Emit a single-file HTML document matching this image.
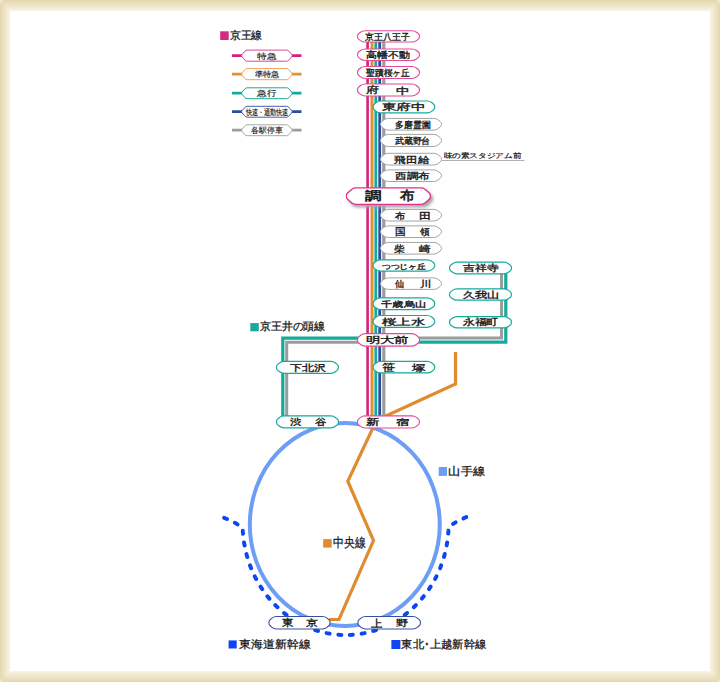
<!DOCTYPE html><html><head><meta charset="utf-8"><style>html,body{margin:0;padding:0;background:#fff;}svg{display:block}text{font-family:"Liberation Sans", sans-serif;}</style></head><body>
<svg width="720" height="682" viewBox="0 0 720 682">
<defs><filter id="blur1" x="-20%" y="-50%" width="140%" height="200%"><feGaussianBlur stdDeviation="1.4"/></filter></defs>
<rect x="0" y="0" width="720" height="682" fill="#f1e9d2"/>
<rect x="0.00" y="0.00" width="720.00" height="682.00" rx="5.0" fill="rgb(231, 215, 174)"/>
<rect x="0.91" y="1.00" width="718.18" height="680.00" rx="4.5" fill="rgb(232, 218, 179)"/>
<rect x="1.82" y="2.00" width="716.36" height="678.00" rx="4.0" fill="rgb(234, 221, 185)"/>
<rect x="2.73" y="3.00" width="714.55" height="676.00" rx="3.5" fill="rgb(236, 224, 190)"/>
<rect x="3.64" y="4.00" width="712.73" height="674.00" rx="3.0" fill="rgb(237, 227, 196)"/>
<rect x="4.55" y="5.00" width="710.91" height="672.00" rx="2.5" fill="rgb(238, 230, 201)"/>
<rect x="5.45" y="6.00" width="709.09" height="670.00" rx="2.0" fill="rgb(240, 232, 206)"/>
<rect x="6.36" y="7.00" width="707.27" height="668.00" rx="1.5" fill="rgb(242, 235, 212)"/>
<rect x="7.27" y="8.00" width="705.45" height="666.00" rx="1.0" fill="rgb(243, 238, 217)"/>
<rect x="8.18" y="9.00" width="703.64" height="664.00" rx="0.5" fill="rgb(244, 241, 223)"/>
<rect x="9.09" y="10.00" width="701.82" height="662.00" rx="0.0" fill="rgb(246, 244, 228)"/>
<rect x="10" y="11" width="700" height="660" fill="#fff"/>
<ellipse cx="344.8" cy="524.5" rx="95" ry="101.5" fill="none" stroke="#6d9ef5" stroke-width="4"/>
<polyline points="455.5,352 455.5,384 376.5,420.3 347.8,481.2 373.5,540.6 339,619.5 329,619.5" fill="none" stroke="#e08b2f" stroke-width="3.2" stroke-linejoin="miter"/>
<polyline points="505.8,266 505.8,342.2 420,342.2 357,338.2 282.8,338.2 282.8,422" fill="none" stroke="#15ab9c" stroke-width="3.2" stroke-linejoin="miter"/>
<polyline points="501.5,266 501.5,338 420,338 357,342.2 286.7,342.2 286.7,422" fill="none" stroke="#9c9c9c" stroke-width="3" stroke-linejoin="miter"/>
<line x1="367.6" y1="36" x2="367.6" y2="422" stroke="#d42082" stroke-width="2.6"/>
<line x1="372.0" y1="36" x2="372.0" y2="422" stroke="#e5902e" stroke-width="3"/>
<line x1="375.8" y1="36" x2="375.8" y2="422" stroke="#15ab9c" stroke-width="2.8"/>
<line x1="379.7" y1="36" x2="379.7" y2="422" stroke="#2c4c9e" stroke-width="2.8"/>
<line x1="383.8" y1="36" x2="383.8" y2="422" stroke="#9c9c9c" stroke-width="3.2"/>
<rect x="220.2" y="31.3" width="8.5" height="8.7" fill="#d42a82"/>
<text x="229.67" y="39.43" font-size="10.52" textLength="32.76" lengthAdjust="spacingAndGlyphs" fill="#1a1a1a" stroke="#1a1a1a" stroke-width="0.30">京王線</text>
<line x1="232" y1="55.6" x2="301.5" y2="55.6" stroke="#d42082" stroke-width="2.8"/>
<path d="M247.10,50.10 L286.70,50.10 Q287.90,50.10 288.68,51.01 L291.65,54.44 Q292.70,55.65 291.65,56.86 L288.68,60.29 Q287.90,61.20 286.70,61.20 L247.10,61.20 Q245.90,61.20 245.12,60.29 L242.15,56.86 Q241.10,55.65 242.15,54.44 L245.12,51.01 Q245.90,50.10 247.10,50.10 Z" fill="#fff" stroke="#e0409a" stroke-width="1.0"/>
<text x="257.30" y="58.70" font-size="7.68" textLength="19.29" lengthAdjust="spacingAndGlyphs" fill="#1a1a1a" stroke="#1a1a1a" stroke-width="0.15">特急</text>
<line x1="232" y1="74.2" x2="301.5" y2="74.2" stroke="#e5902e" stroke-width="2.8"/>
<path d="M247.10,68.60 L286.70,68.60 Q287.90,68.60 288.68,69.51 L291.65,72.94 Q292.70,74.15 291.65,75.36 L288.68,78.79 Q287.90,79.70 286.70,79.70 L247.10,79.70 Q245.90,79.70 245.12,78.79 L242.15,75.36 Q241.10,74.15 242.15,72.94 L245.12,69.51 Q245.90,68.60 247.10,68.60 Z" fill="#fff" stroke="#eea25a" stroke-width="1.0"/>
<text x="254.74" y="77.21" font-size="7.58" textLength="24.20" lengthAdjust="spacingAndGlyphs" fill="#1a1a1a" stroke="#1a1a1a" stroke-width="0.15">準特急</text>
<line x1="232" y1="93.2" x2="301.5" y2="93.2" stroke="#15ab9c" stroke-width="2.8"/>
<path d="M247.10,87.80 L286.70,87.80 Q287.90,87.80 288.69,88.70 L291.64,92.05 Q292.70,93.25 291.64,94.45 L288.69,97.80 Q287.90,98.70 286.70,98.70 L247.10,98.70 Q245.90,98.70 245.11,97.80 L242.16,94.45 Q241.10,93.25 242.16,92.05 L245.11,88.70 Q245.90,87.80 247.10,87.80 Z" fill="#fff" stroke="#15ab9c" stroke-width="1.0"/>
<text x="257.30" y="96.02" font-size="8.30" textLength="19.19" lengthAdjust="spacingAndGlyphs" fill="#1a1a1a" stroke="#1a1a1a" stroke-width="0.15">急行</text>
<line x1="232" y1="111.7" x2="301.5" y2="111.7" stroke="#2c4c9e" stroke-width="2.8"/>
<path d="M247.10,106.30 L286.70,106.30 Q287.90,106.30 288.69,107.20 L291.64,110.55 Q292.70,111.75 291.64,112.95 L288.69,116.30 Q287.90,117.20 286.70,117.20 L247.10,117.20 Q245.90,117.20 245.11,116.30 L242.16,112.95 Q241.10,111.75 242.16,110.55 L245.11,107.20 Q245.90,106.30 247.10,106.30 Z" fill="#fff" stroke="#4060b8" stroke-width="1.0"/>
<text x="245.98" y="115.01" font-size="7.60" textLength="42.14" lengthAdjust="spacingAndGlyphs" fill="#1a1a1a" stroke="#1a1a1a" stroke-width="0.15">快速・通勤快速</text>
<line x1="232" y1="130.2" x2="301.5" y2="130.2" stroke="#9c9c9c" stroke-width="2.8"/>
<path d="M247.10,124.80 L286.70,124.80 Q287.90,124.80 288.69,125.70 L291.64,129.05 Q292.70,130.25 291.64,131.45 L288.69,134.80 Q287.90,135.70 286.70,135.70 L247.10,135.70 Q245.90,135.70 245.11,134.80 L242.16,131.45 Q241.10,130.25 242.16,129.05 L245.11,125.70 Q245.90,124.80 247.10,124.80 Z" fill="#fff" stroke="#a8a8a8" stroke-width="1.0"/>
<text x="251.36" y="133.09" font-size="7.79" textLength="31.76" lengthAdjust="spacingAndGlyphs" fill="#1a1a1a" stroke="#1a1a1a" stroke-width="0.15">各駅停車</text>
<path d="M365.05,30.75 L411.95,30.75 Q414.45,30.75 416.47,32.22 L418.16,33.46 Q419.45,34.40 419.45,36.00 L419.45,36.80 Q419.45,38.40 418.16,39.34 L416.47,40.58 Q414.45,42.05 411.95,42.05 L365.05,42.05 Q362.55,42.05 360.53,40.58 L358.84,39.34 Q357.55,38.40 357.55,36.80 L357.55,36.00 Q357.55,34.40 358.84,33.46 L360.53,32.22 Q362.55,30.75 365.05,30.75 Z" fill="#fff" stroke="#e04a98" stroke-width="1.1"/>
<text x="365.43" y="39.78" font-size="8.79" textLength="44.41" lengthAdjust="spacingAndGlyphs" fill="#1a1a1a" stroke="#1a1a1a" stroke-width="0.35">京王八王子</text>
<path d="M365.05,48.95 L411.95,48.95 Q414.45,48.95 416.45,50.45 L418.17,51.74 Q419.45,52.70 419.45,54.30 L419.45,55.10 Q419.45,56.70 418.17,57.66 L416.45,58.95 Q414.45,60.45 411.95,60.45 L365.05,60.45 Q362.55,60.45 360.55,58.95 L358.83,57.66 Q357.55,56.70 357.55,55.10 L357.55,54.30 Q357.55,52.70 358.83,51.74 L360.55,50.45 Q362.55,48.95 365.05,48.95 Z" fill="#fff" stroke="#e04a98" stroke-width="1.1"/>
<text x="365.65" y="58.43" font-size="8.98" textLength="44.02" lengthAdjust="spacingAndGlyphs" fill="#1a1a1a" stroke="#1a1a1a" stroke-width="0.35">高幡不動</text>
<path d="M365.05,66.45 L411.95,66.45 Q414.45,66.45 416.40,68.01 L418.20,69.45 Q419.45,70.45 419.45,72.05 L419.45,72.85 Q419.45,74.45 418.20,75.45 L416.40,76.89 Q414.45,78.45 411.95,78.45 L365.05,78.45 Q362.55,78.45 360.60,76.89 L358.80,75.45 Q357.55,74.45 357.55,72.85 L357.55,72.05 Q357.55,70.45 358.80,69.45 L360.60,68.01 Q362.55,66.45 365.05,66.45 Z" fill="#fff" stroke="#e04a98" stroke-width="1.1"/>
<text x="366.03" y="75.75" font-size="8.98" textLength="43.72" lengthAdjust="spacingAndGlyphs" fill="#1a1a1a" stroke="#1a1a1a" stroke-width="0.35">聖蹟桜ヶ丘</text>
<path d="M365.05,83.95 L411.95,83.95 Q414.45,83.95 416.40,85.51 L418.20,86.95 Q419.45,87.95 419.45,89.55 L419.45,90.35 Q419.45,91.95 418.20,92.95 L416.40,94.39 Q414.45,95.95 411.95,95.95 L365.05,95.95 Q362.55,95.95 360.60,94.39 L358.80,92.95 Q357.55,91.95 357.55,90.35 L357.55,89.55 Q357.55,87.95 358.80,86.95 L360.60,85.51 Q362.55,83.95 365.05,83.95 Z" fill="#fff" stroke="#e04a98" stroke-width="1.1"/>
<text x="366.31" y="93.42" font-size="9.07" textLength="13.01" lengthAdjust="spacingAndGlyphs" fill="#1a1a1a" stroke="#1a1a1a" stroke-width="0.35">府</text>
<text x="396.48" y="93.56" font-size="9.46" textLength="13.70" lengthAdjust="spacingAndGlyphs" fill="#1a1a1a" stroke="#1a1a1a" stroke-width="0.35">中</text>
<path d="M380.60,101.00 L427.20,101.00 Q429.70,101.00 431.66,102.55 L433.44,103.96 Q434.70,104.95 434.70,106.55 L434.70,107.35 Q434.70,108.95 433.44,109.94 L431.66,111.35 Q429.70,112.90 427.20,112.90 L380.60,112.90 Q378.10,112.90 376.14,111.35 L374.36,109.94 Q373.10,108.95 373.10,107.35 L373.10,106.55 Q373.10,104.95 374.36,103.96 L376.14,102.55 Q378.10,101.00 380.60,101.00 Z" fill="#fff" stroke="#15ab9c" stroke-width="1.2"/>
<text x="381.81" y="110.49" font-size="8.56" textLength="44.00" lengthAdjust="spacingAndGlyphs" fill="#1a1a1a" stroke="#1a1a1a" stroke-width="0.35">東府中</text>
<path d="M388.20,118.40 L433.80,118.40 Q436.00,118.40 437.77,119.70 L440.05,121.38 Q441.50,122.45 441.50,124.25 L441.50,124.25 Q441.50,126.05 440.05,127.12 L437.77,128.80 Q436.00,130.10 433.80,130.10 L388.20,130.10 Q386.00,130.10 384.23,128.80 L381.95,127.12 Q380.50,126.05 380.50,124.25 L380.50,124.25 Q380.50,122.45 381.95,121.38 L384.23,119.70 Q386.00,118.40 388.20,118.40 Z" fill="#fff" stroke="#a4a4a4" stroke-width="1.0"/>
<text x="395.22" y="127.58" font-size="8.54" textLength="35.38" lengthAdjust="spacingAndGlyphs" fill="#1a1a1a" stroke="#1a1a1a" stroke-width="0.35">多磨霊園</text>
<path d="M388.20,134.40 L433.80,134.40 Q436.00,134.40 437.74,135.75 L440.08,137.55 Q441.50,138.65 441.50,140.45 L441.50,140.45 Q441.50,142.25 440.08,143.35 L437.74,145.15 Q436.00,146.50 433.80,146.50 L388.20,146.50 Q386.00,146.50 384.26,145.15 L381.92,143.35 Q380.50,142.25 380.50,140.45 L380.50,140.45 Q380.50,138.65 381.92,137.55 L384.26,135.75 Q386.00,134.40 388.20,134.40 Z" fill="#fff" stroke="#a4a4a4" stroke-width="1.0"/>
<text x="394.72" y="144.32" font-size="9.06" textLength="35.66" lengthAdjust="spacingAndGlyphs" fill="#1a1a1a" stroke="#1a1a1a" stroke-width="0.35">武蔵野台</text>
<path d="M388.20,153.30 L433.80,153.30 Q436.00,153.30 437.77,154.60 L440.05,156.28 Q441.50,157.35 441.50,159.15 L441.50,159.15 Q441.50,160.95 440.05,162.02 L437.77,163.70 Q436.00,165.00 433.80,165.00 L388.20,165.00 Q386.00,165.00 384.23,163.70 L381.95,162.02 Q380.50,160.95 380.50,159.15 L380.50,159.15 Q380.50,157.35 381.95,156.28 L384.23,154.60 Q386.00,153.30 388.20,153.30 Z" fill="#fff" stroke="#a4a4a4" stroke-width="1.0"/>
<text x="394.43" y="162.87" font-size="9.46" textLength="34.93" lengthAdjust="spacingAndGlyphs" fill="#1a1a1a" stroke="#1a1a1a" stroke-width="0.35">飛田給</text>
<path d="M388.20,169.90 L433.80,169.90 Q436.00,169.90 437.78,171.19 L440.04,172.84 Q441.50,173.90 441.50,175.70 L441.50,175.70 Q441.50,177.50 440.04,178.56 L437.78,180.21 Q436.00,181.50 433.80,181.50 L388.20,181.50 Q386.00,181.50 384.22,180.21 L381.96,178.56 Q380.50,177.50 380.50,175.70 L380.50,175.70 Q380.50,173.90 381.96,172.84 L384.22,171.19 Q386.00,169.90 388.20,169.90 Z" fill="#fff" stroke="#a4a4a4" stroke-width="1.0"/>
<text x="395.17" y="179.41" font-size="9.06" textLength="34.69" lengthAdjust="spacingAndGlyphs" fill="#1a1a1a" stroke="#1a1a1a" stroke-width="0.35">西調布</text>
<line x1="441.8" y1="160.5" x2="524.4" y2="160.5" stroke="#9a9a9a" stroke-width="0.8"/>
<text x="443.56" y="157.69" font-size="7.09" textLength="77.78" lengthAdjust="spacingAndGlyphs" fill="#1a1a1a" stroke="#1a1a1a" stroke-width="0.20">味の素スタジアム前</text>
<path d="M357.00,189.80 L424.20,189.80 Q426.20,189.80 427.64,191.18 L432.12,195.46 Q433.20,196.50 433.20,198.00 L433.20,199.40 Q433.20,200.90 432.12,201.94 L427.64,206.22 Q426.20,207.60 424.20,207.60 L357.00,207.60 Q355.00,207.60 353.56,206.22 L349.08,201.94 Q348.00,200.90 348.00,199.40 L348.00,198.00 Q348.00,196.50 349.08,195.46 L353.56,191.18 Q355.00,189.80 357.00,189.80 Z" fill="#a8a8a8" filter="url(#blur1)"/>
<path d="M355.45,187.85 L421.35,187.85 Q423.35,187.85 424.86,189.16 L429.22,192.92 Q430.35,193.90 430.35,195.40 L430.35,196.80 Q430.35,198.30 429.22,199.28 L424.86,203.04 Q423.35,204.35 421.35,204.35 L355.45,204.35 Q353.45,204.35 351.94,203.04 L347.58,199.28 Q346.45,198.30 346.45,196.80 L346.45,195.40 Q346.45,193.90 347.58,192.92 L351.94,189.16 Q353.45,187.85 355.45,187.85 Z" fill="#fff" stroke="#e03090" stroke-width="1.3"/>
<text x="364.67" y="200.27" font-size="12.34" textLength="16.63" lengthAdjust="spacingAndGlyphs" fill="#1a1a1a" stroke="#1a1a1a" stroke-width="0.60">調</text>
<text x="399.55" y="200.20" font-size="12.88" textLength="14.63" lengthAdjust="spacingAndGlyphs" fill="#1a1a1a" stroke="#1a1a1a" stroke-width="0.60">布</text>
<path d="M388.20,209.40 L433.80,209.40 Q436.00,209.40 437.78,210.69 L440.04,212.34 Q441.50,213.40 441.50,215.20 L441.50,215.20 Q441.50,217.00 440.04,218.06 L437.78,219.71 Q436.00,221.00 433.80,221.00 L388.20,221.00 Q386.00,221.00 384.22,219.71 L381.96,218.06 Q380.50,217.00 380.50,215.20 L380.50,215.20 Q380.50,213.40 381.96,212.34 L384.22,210.69 Q386.00,209.40 388.20,209.40 Z" fill="#fff" stroke="#a4a4a4" stroke-width="1.0"/>
<text x="394.80" y="218.52" font-size="9.02" textLength="10.21" lengthAdjust="spacingAndGlyphs" fill="#1a1a1a" stroke="#1a1a1a" stroke-width="0.35">布</text>
<text x="418.60" y="218.66" font-size="9.43" textLength="12.27" lengthAdjust="spacingAndGlyphs" fill="#1a1a1a" stroke="#1a1a1a" stroke-width="0.35">田</text>
<path d="M388.20,225.90 L433.80,225.90 Q436.00,225.90 437.78,227.19 L440.04,228.84 Q441.50,229.90 441.50,231.70 L441.50,231.70 Q441.50,233.50 440.04,234.56 L437.78,236.21 Q436.00,237.50 433.80,237.50 L388.20,237.50 Q386.00,237.50 384.22,236.21 L381.96,234.56 Q380.50,233.50 380.50,231.70 L380.50,231.70 Q380.50,229.90 381.96,228.84 L384.22,227.19 Q386.00,225.90 388.20,225.90 Z" fill="#fff" stroke="#a4a4a4" stroke-width="1.0"/>
<text x="394.54" y="235.43" font-size="9.78" textLength="10.73" lengthAdjust="spacingAndGlyphs" fill="#1a1a1a" stroke="#1a1a1a" stroke-width="0.35">国</text>
<text x="420.20" y="235.13" font-size="9.17" textLength="9.58" lengthAdjust="spacingAndGlyphs" fill="#1a1a1a" stroke="#1a1a1a" stroke-width="0.35">領</text>
<path d="M388.20,242.40 L433.80,242.40 Q436.00,242.40 437.77,243.70 L440.05,245.38 Q441.50,246.45 441.50,248.25 L441.50,248.25 Q441.50,250.05 440.05,251.12 L437.77,252.80 Q436.00,254.10 433.80,254.10 L388.20,254.10 Q386.00,254.10 384.23,252.80 L381.95,251.12 Q380.50,250.05 380.50,248.25 L380.50,248.25 Q380.50,246.45 381.95,245.38 L384.23,243.70 Q386.00,242.40 388.20,242.40 Z" fill="#fff" stroke="#a4a4a4" stroke-width="1.0"/>
<text x="394.47" y="251.84" font-size="8.97" textLength="10.66" lengthAdjust="spacingAndGlyphs" fill="#1a1a1a" stroke="#1a1a1a" stroke-width="0.35">柴</text>
<text x="418.85" y="251.99" font-size="9.26" textLength="11.51" lengthAdjust="spacingAndGlyphs" fill="#1a1a1a" stroke="#1a1a1a" stroke-width="0.35">崎</text>
<path d="M388.20,277.90 L433.80,277.90 Q436.00,277.90 437.79,279.18 L440.04,280.80 Q441.50,281.85 441.50,283.65 L441.50,283.65 Q441.50,285.45 440.04,286.50 L437.79,288.12 Q436.00,289.40 433.80,289.40 L388.20,289.40 Q386.00,289.40 384.21,288.12 L381.96,286.50 Q380.50,285.45 380.50,283.65 L380.50,283.65 Q380.50,281.85 381.96,280.80 L384.21,279.18 Q386.00,277.90 388.20,277.90 Z" fill="#fff" stroke="#a4a4a4" stroke-width="1.0"/>
<text x="395.00" y="287.13" font-size="9.02" textLength="9.12" lengthAdjust="spacingAndGlyphs" fill="#1a1a1a" stroke="#1a1a1a" stroke-width="0.35">仙</text>
<text x="419.54" y="287.16" font-size="8.74" textLength="11.46" lengthAdjust="spacingAndGlyphs" fill="#1a1a1a" stroke="#1a1a1a" stroke-width="0.35">川</text>
<path d="M380.60,259.80 L427.20,259.80 Q429.70,259.80 431.72,261.27 L433.41,262.51 Q434.70,263.45 434.70,265.05 L434.70,265.85 Q434.70,267.45 433.41,268.39 L431.72,269.63 Q429.70,271.10 427.20,271.10 L380.60,271.10 Q378.10,271.10 376.08,269.63 L374.39,268.39 Q373.10,267.45 373.10,265.85 L373.10,265.05 Q373.10,263.45 374.39,262.51 L376.08,261.27 Q378.10,259.80 380.60,259.80 Z" fill="#fff" stroke="#15ab9c" stroke-width="1.2"/>
<text x="381.74" y="268.56" font-size="6.94" textLength="44.31" lengthAdjust="spacingAndGlyphs" fill="#1a1a1a" stroke="#1a1a1a" stroke-width="0.35">つつじヶ丘</text>
<path d="M380.60,297.80 L427.20,297.80 Q429.70,297.80 431.67,299.34 L433.44,300.72 Q434.70,301.70 434.70,303.30 L434.70,304.10 Q434.70,305.70 433.44,306.68 L431.67,308.06 Q429.70,309.60 427.20,309.60 L380.60,309.60 Q378.10,309.60 376.13,308.06 L374.36,306.68 Q373.10,305.70 373.10,304.10 L373.10,303.30 Q373.10,301.70 374.36,300.72 L376.13,299.34 Q378.10,297.80 380.60,297.80 Z" fill="#fff" stroke="#15ab9c" stroke-width="1.2"/>
<text x="381.28" y="307.04" font-size="8.13" textLength="44.65" lengthAdjust="spacingAndGlyphs" fill="#1a1a1a" stroke="#1a1a1a" stroke-width="0.35">千歳烏山</text>
<path d="M380.60,315.50 L427.20,315.50 Q429.70,315.50 431.67,317.04 L433.44,318.42 Q434.70,319.40 434.70,321.00 L434.70,321.80 Q434.70,323.40 433.44,324.38 L431.67,325.76 Q429.70,327.30 427.20,327.30 L380.60,327.30 Q378.10,327.30 376.13,325.76 L374.36,324.38 Q373.10,323.40 373.10,321.80 L373.10,321.00 Q373.10,319.40 374.36,318.42 L376.13,317.04 Q378.10,315.50 380.60,315.50 Z" fill="#fff" stroke="#15ab9c" stroke-width="1.2"/>
<text x="381.86" y="325.16" font-size="8.74" textLength="43.42" lengthAdjust="spacingAndGlyphs" fill="#1a1a1a" stroke="#1a1a1a" stroke-width="0.35">桜上水</text>
<path d="M365.05,333.65 L411.95,333.65 Q414.45,333.65 416.35,335.27 L418.23,336.86 Q419.45,337.90 419.45,339.50 L419.45,340.30 Q419.45,341.90 418.23,342.94 L416.35,344.53 Q414.45,346.15 411.95,346.15 L365.05,346.15 Q362.55,346.15 360.65,344.53 L358.77,342.94 Q357.55,341.90 357.55,340.30 L357.55,339.50 Q357.55,337.90 358.77,336.86 L360.65,335.27 Q362.55,333.65 365.05,333.65 Z" fill="#fff" stroke="#e04a98" stroke-width="1.1"/>
<text x="365.69" y="342.76" font-size="8.74" textLength="43.18" lengthAdjust="spacingAndGlyphs" fill="#1a1a1a" stroke="#1a1a1a" stroke-width="0.35">明大前</text>
<path d="M380.60,361.40 L427.20,361.40 Q429.70,361.40 431.70,362.90 L433.42,364.19 Q434.70,365.15 434.70,366.75 L434.70,367.55 Q434.70,369.15 433.42,370.11 L431.70,371.40 Q429.70,372.90 427.20,372.90 L380.60,372.90 Q378.10,372.90 376.10,371.40 L374.38,370.11 Q373.10,369.15 373.10,367.55 L373.10,366.75 Q373.10,365.15 374.38,364.19 L376.10,362.90 Q378.10,361.40 380.60,361.40 Z" fill="#fff" stroke="#15ab9c" stroke-width="1.2"/>
<text x="381.71" y="371.22" font-size="9.78" textLength="13.12" lengthAdjust="spacingAndGlyphs" fill="#1a1a1a" stroke="#1a1a1a" stroke-width="0.35">笹</text>
<text x="411.80" y="370.78" font-size="9.35" textLength="13.65" lengthAdjust="spacingAndGlyphs" fill="#1a1a1a" stroke="#1a1a1a" stroke-width="0.35">塚</text>
<path d="M365.05,415.85 L411.95,415.85 Q414.45,415.85 416.39,417.42 L418.21,418.89 Q419.45,419.90 419.45,421.50 L419.45,422.30 Q419.45,423.90 418.21,424.91 L416.39,426.38 Q414.45,427.95 411.95,427.95 L365.05,427.95 Q362.55,427.95 360.61,426.38 L358.79,424.91 Q357.55,423.90 357.55,422.30 L357.55,421.50 Q357.55,419.90 358.79,418.89 L360.61,417.42 Q362.55,415.85 365.05,415.85 Z" fill="#fff" stroke="#e04a98" stroke-width="1.1"/>
<text x="365.93" y="424.98" font-size="8.54" textLength="13.40" lengthAdjust="spacingAndGlyphs" fill="#1a1a1a" stroke="#1a1a1a" stroke-width="0.35">新</text>
<text x="396.40" y="424.99" font-size="8.45" textLength="13.30" lengthAdjust="spacingAndGlyphs" fill="#1a1a1a" stroke="#1a1a1a" stroke-width="0.35">宿</text>
<path d="M457.10,262.20 L503.90,262.20 Q506.40,262.20 508.39,263.71 L510.13,265.03 Q511.40,266.00 511.40,267.60 L511.40,268.40 Q511.40,270.00 510.13,270.97 L508.39,272.29 Q506.40,273.80 503.90,273.80 L457.10,273.80 Q454.60,273.80 452.61,272.29 L450.87,270.97 Q449.60,270.00 449.60,268.40 L449.60,267.60 Q449.60,266.00 450.87,265.03 L452.61,263.71 Q454.60,262.20 457.10,262.20 Z" fill="#fff" stroke="#15ab9c" stroke-width="1.2"/>
<text x="462.76" y="271.10" font-size="8.67" textLength="35.71" lengthAdjust="spacingAndGlyphs" fill="#1a1a1a" stroke="#1a1a1a" stroke-width="0.35">吉祥寺</text>
<path d="M457.10,288.90 L503.90,288.90 Q506.40,288.90 508.42,290.37 L510.11,291.61 Q511.40,292.55 511.40,294.15 L511.40,294.95 Q511.40,296.55 510.11,297.49 L508.42,298.73 Q506.40,300.20 503.90,300.20 L457.10,300.20 Q454.60,300.20 452.58,298.73 L450.89,297.49 Q449.60,296.55 449.60,294.95 L449.60,294.15 Q449.60,292.55 450.89,291.61 L452.58,290.37 Q454.60,288.90 457.10,288.90 Z" fill="#fff" stroke="#15ab9c" stroke-width="1.2"/>
<text x="462.76" y="298.40" font-size="9.15" textLength="36.59" lengthAdjust="spacingAndGlyphs" fill="#1a1a1a" stroke="#1a1a1a" stroke-width="0.35">久我山</text>
<path d="M457.10,316.60 L503.90,316.60 Q506.40,316.60 508.42,318.07 L510.11,319.31 Q511.40,320.25 511.40,321.85 L511.40,322.65 Q511.40,324.25 510.11,325.19 L508.42,326.43 Q506.40,327.90 503.90,327.90 L457.10,327.90 Q454.60,327.90 452.58,326.43 L450.89,325.19 Q449.60,324.25 449.60,322.65 L449.60,321.85 Q449.60,320.25 450.89,319.31 L452.58,318.07 Q454.60,316.60 457.10,316.60 Z" fill="#fff" stroke="#15ab9c" stroke-width="1.2"/>
<text x="462.76" y="325.37" font-size="8.67" textLength="35.59" lengthAdjust="spacingAndGlyphs" fill="#1a1a1a" stroke="#1a1a1a" stroke-width="0.35">永福町</text>
<path d="M284.00,361.40 L330.90,361.40 Q333.40,361.40 335.35,362.96 L337.15,364.40 Q338.40,365.40 338.40,367.00 L338.40,367.80 Q338.40,369.40 337.15,370.40 L335.35,371.84 Q333.40,373.40 330.90,373.40 L284.00,373.40 Q281.50,373.40 279.55,371.84 L277.75,370.40 Q276.50,369.40 276.50,367.80 L276.50,367.00 Q276.50,365.40 277.75,364.40 L279.55,362.96 Q281.50,361.40 284.00,361.40 Z" fill="#fff" stroke="#15ab9c" stroke-width="1.2"/>
<text x="289.76" y="370.94" font-size="8.83" textLength="36.22" lengthAdjust="spacingAndGlyphs" fill="#1a1a1a" stroke="#1a1a1a" stroke-width="0.35">下北沢</text>
<path d="M284.00,415.90 L330.90,415.90 Q333.40,415.90 335.35,417.46 L337.15,418.90 Q338.40,419.90 338.40,421.50 L338.40,422.30 Q338.40,423.90 337.15,424.90 L335.35,426.34 Q333.40,427.90 330.90,427.90 L284.00,427.90 Q281.50,427.90 279.55,426.34 L277.75,424.90 Q276.50,423.90 276.50,422.30 L276.50,421.50 Q276.50,419.90 277.75,418.90 L279.55,417.46 Q281.50,415.90 284.00,415.90 Z" fill="#fff" stroke="#15ab9c" stroke-width="1.2"/>
<text x="289.77" y="425.03" font-size="8.82" textLength="11.38" lengthAdjust="spacingAndGlyphs" fill="#1a1a1a" stroke="#1a1a1a" stroke-width="0.35">渋</text>
<text x="314.97" y="424.94" font-size="8.82" textLength="11.51" lengthAdjust="spacingAndGlyphs" fill="#1a1a1a" stroke="#1a1a1a" stroke-width="0.35">谷</text>
<path d="M222.30,517.20 L224.53,518.01 L226.67,518.85 L228.71,519.71 L230.65,520.59 L232.50,521.50 L234.25,522.42 L235.90,523.38 L237.45,524.36 L238.90,525.36 L240.26,526.38 L241.52,527.43 L242.68,528.50 L242.86,531.89 L243.13,535.28 L243.50,538.65 L243.96,542.01 L244.52,545.35 L245.18,548.68 L245.93,551.98 L246.77,555.25 L247.70,558.49 L248.73,561.71 L249.84,564.88 L251.05,568.02 L252.34,571.12 L253.72,574.17 L255.19,577.18 L256.74,580.14 L258.38,583.04 L260.10,585.89 L261.89,588.68 L263.77,591.41 L265.72,594.08 L267.75,596.68 L269.85,599.21 L272.02,601.67 L274.26,604.06 L276.57,606.38 L278.94,608.62 L281.37,610.78 L283.87,612.85 L286.42,614.85 L289.02,616.76 L291.69,618.58 L294.40,620.31 L297.15,621.96 L299.96,623.51 L302.81,624.97 L305.69,626.33 L308.62,627.60 L311.58,628.77 L314.57,629.84 L317.59,630.82 L320.63,631.69 L323.70,632.46 L326.79,633.13 L329.90,633.70 L333.02,634.17 L336.16,634.53 L339.30,634.79 L342.45,634.95 L345.60,635.00" fill="none" stroke="#0d45f2" stroke-width="4" stroke-linecap="round" stroke-linejoin="round" stroke-dasharray="3 8.857" stroke-dashoffset="-2"/>
<path d="M468.10,516.40 L465.96,517.26 L463.92,518.13 L461.97,519.01 L460.11,519.90 L458.34,520.81 L456.66,521.73 L455.08,522.66 L453.59,523.60 L452.19,524.56 L450.88,525.53 L449.67,526.51 L448.55,527.50 L448.40,530.91 L448.15,534.32 L447.81,537.72 L447.37,541.10 L446.83,544.47 L446.20,547.82 L445.47,551.14 L444.65,554.44 L443.73,557.71 L442.72,560.95 L441.62,564.16 L440.43,567.32 L439.15,570.45 L437.78,573.53 L436.32,576.56 L434.77,579.55 L433.15,582.48 L431.43,585.36 L429.64,588.17 L427.77,590.93 L425.82,593.63 L423.79,596.25 L421.69,598.81 L419.52,601.30 L417.27,603.72 L414.96,606.06 L412.59,608.32 L410.15,610.50 L407.65,612.60 L405.09,614.62 L402.47,616.55 L399.80,618.39 L397.08,620.14 L394.31,621.80 L391.49,623.37 L388.63,624.85 L385.73,626.23 L382.79,627.51 L379.82,628.70 L376.81,629.78 L373.77,630.77 L370.71,631.65 L367.62,632.43 L364.52,633.11 L361.39,633.69 L358.25,634.16 L355.10,634.53 L351.94,634.79 L348.77,634.95 L345.60,635.00" fill="none" stroke="#0d45f2" stroke-width="4" stroke-linecap="round" stroke-linejoin="round" stroke-dasharray="3 8.866" stroke-dashoffset="-2"/>
<path d="M276.45,616.45 L322.55,616.45 Q325.05,616.45 326.95,618.07 L328.83,619.66 Q330.05,620.70 330.05,622.30 L330.05,623.10 Q330.05,624.70 328.83,625.74 L326.95,627.33 Q325.05,628.95 322.55,628.95 L276.45,628.95 Q273.95,628.95 272.05,627.33 L270.17,625.74 Q268.95,624.70 268.95,623.10 L268.95,622.30 Q268.95,620.70 270.17,619.66 L272.05,618.07 Q273.95,616.45 276.45,616.45 Z" fill="#fff" stroke="#3650a0" stroke-width="1.1"/>
<text x="281.77" y="626.33" font-size="9.79" textLength="11.51" lengthAdjust="spacingAndGlyphs" fill="#1a1a1a" stroke="#1a1a1a" stroke-width="0.35">東</text>
<text x="306.44" y="626.27" font-size="9.48" textLength="12.04" lengthAdjust="spacingAndGlyphs" fill="#1a1a1a" stroke="#1a1a1a" stroke-width="0.35">京</text>
<path d="M365.45,616.45 L412.95,616.45 Q415.45,616.45 417.35,618.07 L419.23,619.66 Q420.45,620.70 420.45,622.30 L420.45,623.10 Q420.45,624.70 419.23,625.74 L417.35,627.33 Q415.45,628.95 412.95,628.95 L365.45,628.95 Q362.95,628.95 361.05,627.33 L359.17,625.74 Q357.95,624.70 357.95,623.10 L357.95,622.30 Q357.95,620.70 359.17,619.66 L361.05,618.07 Q362.95,616.45 365.45,616.45 Z" fill="#fff" stroke="#3650a0" stroke-width="1.1"/>
<text x="371.27" y="627.00" font-size="10.00" textLength="11.38" lengthAdjust="spacingAndGlyphs" fill="#1a1a1a" stroke="#1a1a1a" stroke-width="0.35">上</text>
<text x="395.81" y="626.27" font-size="9.46" textLength="12.31" lengthAdjust="spacingAndGlyphs" fill="#1a1a1a" stroke="#1a1a1a" stroke-width="0.35">野</text>
<rect x="250.3" y="323.1" width="8.5" height="8.2" fill="#1aa898"/>
<text x="259.67" y="330.20" font-size="10.60" textLength="65.76" lengthAdjust="spacingAndGlyphs" fill="#1a1a1a" stroke="#1a1a1a" stroke-width="0.30">京王井の頭線</text>
<rect x="438.7" y="467" width="8.3" height="8.9" fill="#6d9ef5"/>
<text x="448.43" y="475.45" font-size="11.15" textLength="36.46" lengthAdjust="spacingAndGlyphs" fill="#1a1a1a" stroke="#1a1a1a" stroke-width="0.30">山手線</text>
<rect x="323.2" y="539.1" width="8.5" height="8.5" fill="#e08b2f"/>
<text x="333.25" y="546.90" font-size="13.05" textLength="32.59" lengthAdjust="spacingAndGlyphs" fill="#1a1a1a" stroke="#1a1a1a" stroke-width="0.30">中央線</text>
<rect x="228.6" y="640.4" width="8.1" height="8.1" fill="#0d45f2"/>
<text x="239.16" y="648.01" font-size="10.72" textLength="71.62" lengthAdjust="spacingAndGlyphs" fill="#1a1a1a" stroke="#1a1a1a" stroke-width="0.30">東海道新幹線</text>
<rect x="391.4" y="640" width="9" height="9" fill="#0d45f2"/>
<text x="401.27" y="648.01" font-size="10.72" textLength="84.98" lengthAdjust="spacingAndGlyphs" fill="#1a1a1a" stroke="#1a1a1a" stroke-width="0.30">東北･上越新幹線</text>
</svg></body></html>
